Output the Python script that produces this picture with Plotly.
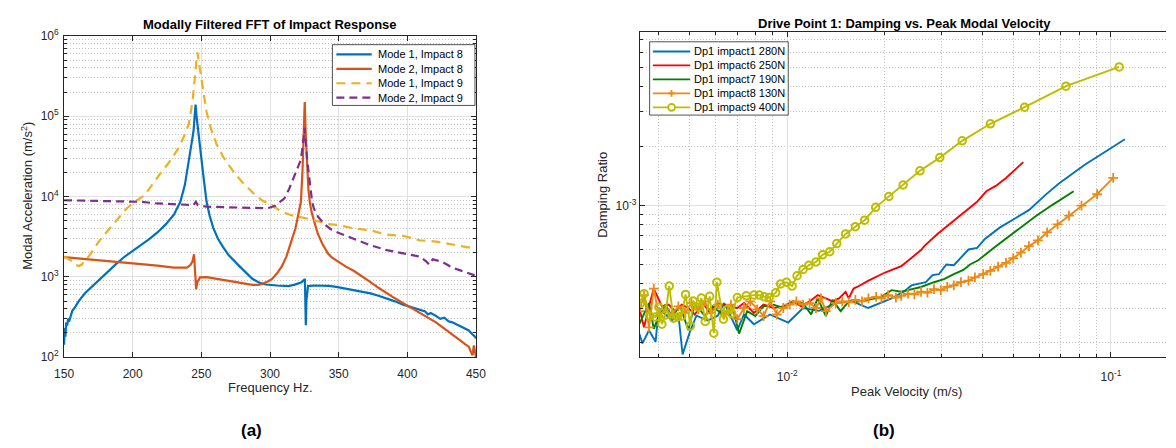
import plotly.graph_objects as go

# ---------------- Data: (a) Modally filtered FFT ----------------
freq_m1_i8 = [150, 150.5, 151, 151.5, 152.4, 153, 154, 156, 158, 160.7, 165, 170.3, 176, 182.2, 188, 194.2, 200, 206, 212, 218,
              224, 230, 234.7, 238, 240.7, 242.5, 244.3, 245.3, 245.8, 246.5, 247.9, 249.5, 251.5, 253.8, 256, 258.6, 262, 265.7,
              270, 277.7, 283, 287.3, 292, 296.8, 305, 313.5, 318, 323, 325.4, 325.8, 326.1, 326.5, 327.7, 332, 337.3, 343, 349.3,
              355, 361.2, 367, 373.2, 379, 385.1, 391, 397, 403, 409, 413, 415, 417, 420.9, 424, 427, 430, 432.8, 436, 439, 442,
              444.8, 447, 449.5, 450]
acc_m1_i8 = [143, 230, 180, 260, 257, 300, 290, 377, 420, 498, 620, 753, 950, 1180, 1450, 1790, 2100, 2470, 2950, 3570,
             4500, 5950, 8590, 14000, 25900, 40000, 65100, 110000, 140000, 100000, 60000, 35000, 18000, 8600, 5800, 4100, 3000, 2360,
             1850, 1360, 1100, 940, 850, 803, 780, 767, 800, 858, 940, 600, 250, 500, 767, 780, 782, 770, 746,
             715, 680, 650, 621, 580, 541, 495, 450, 420, 391, 370, 340, 355, 326, 300, 310, 280, 271, 255, 240, 225,
             215, 195, 179, 170]

freq_m2_i8 = [150, 160, 170, 182.2, 194, 206, 218, 230, 236, 239.5, 242, 243.5, 244.7, 245.4, 246.2, 247, 249, 253.8, 260, 265.7,
              271, 277.7, 283, 287.3, 291, 294.4, 298, 301.5, 305, 308.7, 312, 315.9, 318.5, 320.6, 322.5, 323.7, 324.6, 325.3, 326,
              326.6, 328, 329, 330.2, 332.5, 334.9, 338, 342.1, 345, 349.3, 355, 361.2, 367, 373.2, 379, 385.1, 391, 397, 403, 409,
              415, 420.9, 425, 428, 430, 432.8, 435, 437, 440, 442, 444.8, 446, 447.5, 448.5, 449.5, 450]
acc_m2_i8 = [1760, 1700, 1660, 1590, 1520, 1460, 1380, 1300, 1290, 1300, 1400, 1550, 1910, 1300, 700, 850, 984, 990, 950, 914,
             880, 841, 815, 796, 795, 818, 870, 940, 1100, 1360, 1800, 2840, 4000, 5950, 8600, 21600, 60000, 150000, 60000,
             34300, 12000, 8600, 6500, 4700, 3420, 2600, 1960, 1750, 1560, 1350, 1180, 1000, 858, 730, 621, 540, 471, 410, 357,
             310, 271, 240, 220, 210, 196, 180, 170, 155, 145, 135, 120, 105, 140, 113, 100]

freq_m1_i9 = [150, 153, 156, 158, 160.7, 163, 165, 167.9, 172, 176, 179.8, 185, 191.7, 196, 201.3, 208.5, 214, 220.4, 226, 232.3,
              236.5, 240.7, 243.5, 245.4, 246.5, 247.1, 248, 249, 250.2, 252, 253.8, 257, 261, 266, 272.9, 280, 289.6, 295, 301.5,
              306, 311, 315, 320.6, 325, 330.2, 335, 342.1, 349.3, 361.2, 373.2, 385.1, 397, 409, 420.9, 435, 450]
acc_m1_i9 = [1790, 1650, 1560, 1420, 1360, 1420, 1600, 1790, 2300, 2850, 3420, 4400, 5940, 7200, 8600, 10300, 14000, 19700, 26000, 37500,
             52000, 78500, 150000, 286000, 500000, 625000, 500000, 360000, 260000, 170000, 113000, 70000, 45200, 31000, 21000, 15000, 10300, 8800, 7830,
             6900, 6220, 5900, 5680, 5400, 5180, 4900, 4550, 4430, 4000, 3800, 3350, 3250, 2850, 2750, 2500, 2240]

freq_m2_i9 = [150, 170, 190, 206, 218, 230, 240, 244.3, 246, 247.5, 253.8, 265, 277.7, 290, 296.8, 300, 303.9, 307, 310.4, 314,
              317.6, 320, 322.4, 324, 325.2, 326.2, 327.1, 329, 330.7, 331.9, 335, 339.7, 344, 349.3, 361.2, 373.2, 385.1, 397, 409,
              413.7, 416, 418.5, 425, 432.8, 440, 450]
acc_m2_i9 = [9000, 8800, 8700, 8600, 8200, 8000, 7800, 7830, 8600, 7800, 7480, 7400, 7350, 7200, 7150, 7300, 7700, 8500, 9420, 12500,
             17900, 22000, 28500, 45000, 71600, 45000, 28500, 15000, 8600, 7150, 5600, 4510, 3950, 3570, 2970, 2470, 2150, 1960, 1790,
             1560, 1420, 1650, 1550, 1300, 1180, 1030]

fft_names = ["Mode 1, Impact 8", "Mode 2, Impact 8", "Mode 1, Impact 9", "Mode 2, Impact 9"]

# ---------------- Data: (b) Damping vs peak velocity ----------------
vel_i1 = [0.00349, 0.00357, 0.00374, 0.00392, 0.00401, 0.00420, 0.00440, 0.00461, 0.00475, 0.00500, 0.00524, 0.00569, 0.00610,
          0.00639, 0.00701, 0.00735, 0.00789, 0.00884, 0.01007, 0.01119, 0.01253, 0.01412, 0.01585, 0.01778, 0.0210, 0.0230,
          0.0242, 0.0253, 0.0268, 0.0281, 0.0294, 0.0310, 0.0327, 0.0363, 0.0386, 0.0408, 0.0453, 0.0508, 0.0559, 0.0625,
          0.0689, 0.0830, 0.1104]
damp_i1 = [2.23e-4, 1.99e-4, 2.32e-4, 2.03e-4, 3.01e-4, 2.79e-4, 2.60e-4, 2.79e-4, 1.75e-4, 2.27e-4, 2.75e-4, 2.60e-4, 2.75e-4,
           3.19e-4, 2.32e-4, 2.79e-4, 2.49e-4, 2.79e-4, 2.54e-4, 3.01e-4, 2.91e-4, 3.19e-4, 3.26e-4, 3.01e-4, 3.37e-4, 3.66e-4,
           3.92e-4, 3.99e-4, 4.07e-4, 4.42e-4, 4.47e-4, 5.01e-4, 4.97e-4, 5.97e-4, 6.08e-4, 6.76e-4, 7.71e-4, 8.63e-4, 9.49e-4, 1.125e-3,
           1.29e-3, 1.61e-3, 2.17e-3]

vel_i6 = [0.00349, 0.00361, 0.00374, 0.00387, 0.00410, 0.00430, 0.00450, 0.00472, 0.00495, 0.00518, 0.00549, 0.00576, 0.00610,
          0.00654, 0.00701, 0.00735, 0.00789, 0.00845, 0.00906, 0.00972, 0.01042, 0.01105, 0.01172, 0.01242, 0.01316, 0.01379,
          0.01445, 0.01514, 0.01549, 0.01603, 0.01643, 0.01782, 0.02004, 0.0225, 0.0259, 0.0265, 0.0291, 0.0319, 0.0350, 0.0385,
          0.0412, 0.0442, 0.0474, 0.0536]
damp_i6 = [3.01e-4, 2.40e-4, 3.07e-4, 3.78e-4, 3.07e-4, 3.13e-4, 2.90e-4, 3.13e-4, 3.01e-4, 2.79e-4, 3.19e-4, 2.84e-4, 3.19e-4,
           3.07e-4, 3.01e-4, 3.19e-4, 2.84e-4, 3.13e-4, 3.01e-4, 3.07e-4, 3.25e-4, 3.07e-4, 3.25e-4, 3.50e-4, 3.37e-4, 3.25e-4,
           3.37e-4, 3.64e-4, 3.37e-4, 3.78e-4, 3.85e-4, 4.15e-4, 4.56e-4, 4.91e-4, 5.93e-4, 6.21e-4, 7.16e-4, 8.07e-4, 9.14e-4, 1.04e-3,
           1.18e-3, 1.26e-3, 1.38e-3, 1.66e-3]

vel_i7 = [0.00349, 0.00361, 0.00374, 0.00387, 0.00401, 0.00420, 0.00440, 0.00467, 0.00495, 0.00518, 0.00556, 0.00589, 0.00631,
          0.00677, 0.00710, 0.00752, 0.00797, 0.00845, 0.00906, 0.00972, 0.01042, 0.01119, 0.01185, 0.01242, 0.01316, 0.01379,
          0.01462, 0.01549, 0.01660, 0.01782, 0.01954, 0.0210, 0.0225, 0.0236, 0.0259, 0.0284, 0.0305, 0.0327, 0.0350, 0.0367,
          0.0389, 0.0432, 0.0480, 0.0527, 0.0585, 0.0658, 0.0767]
damp_i7 = [2.49e-4, 2.79e-4, 3.19e-4, 2.36e-4, 2.74e-4, 3.13e-4, 2.74e-4, 3.07e-4, 2.32e-4, 3.19e-4, 2.74e-4, 3.07e-4, 2.79e-4,
           3.07e-4, 2.23e-4, 2.90e-4, 2.74e-4, 3.07e-4, 3.13e-4, 3.01e-4, 3.25e-4, 3.19e-4, 2.79e-4, 3.37e-4, 2.74e-4, 3.31e-4,
           2.90e-4, 3.25e-4, 3.25e-4, 3.31e-4, 3.43e-4, 3.71e-4, 3.64e-4, 3.71e-4, 3.85e-4, 4.07e-4, 4.22e-4, 4.47e-4, 4.70e-4, 5.01e-4,
           5.26e-4, 6.04e-4, 6.89e-4, 7.80e-4, 8.81e-4, 1.004e-3, 1.18e-3]

vel_i8 = [0.00349, 0.00361, 0.00374, 0.00387, 0.00401, 0.00420, 0.00440, 0.00461, 0.00483, 0.00506, 0.00531, 0.00556, 0.00582,
          0.00610, 0.00639, 0.00670, 0.00701, 0.00735, 0.00769, 0.00807, 0.00845, 0.00886, 0.00928, 0.00972, 0.01018, 0.01067,
          0.01119, 0.01172, 0.01227, 0.01271, 0.01316, 0.01412, 0.01479, 0.01549, 0.01623, 0.01702, 0.01782, 0.01882, 0.01954,
          0.0205, 0.02166, 0.0225, 0.0236, 0.0247, 0.0259, 0.0271, 0.0284, 0.0298, 0.0312, 0.0327, 0.0344, 0.0363, 0.0380, 0.0403,
          0.0424, 0.0448, 0.0474, 0.0499, 0.0527, 0.0558, 0.0595, 0.0635, 0.0684, 0.0742, 0.0811, 0.0906, 0.1016]
damp_i8 = [2.90e-4, 3.50e-4, 2.40e-4, 3.78e-4, 2.74e-4, 2.96e-4, 2.79e-4, 3.07e-4, 2.84e-4, 3.19e-4, 2.96e-4, 3.25e-4, 2.84e-4,
           3.13e-4, 2.79e-4, 3.13e-4, 2.64e-4, 3.01e-4, 3.25e-4, 2.96e-4, 2.74e-4, 3.25e-4, 2.79e-4, 3.01e-4, 3.13e-4, 3.25e-4,
           3.13e-4, 3.19e-4, 3.01e-4, 3.37e-4, 2.90e-4, 3.19e-4, 3.25e-4, 3.22e-4, 3.31e-4, 3.25e-4, 3.37e-4, 3.43e-4, 3.37e-4,
           3.50e-4, 3.40e-4, 3.47e-4, 3.56e-4, 3.53e-4, 3.64e-4, 3.60e-4, 3.75e-4, 3.71e-4, 3.85e-4, 3.92e-4, 4.07e-4, 4.15e-4, 4.31e-4, 4.47e-4,
           4.65e-4, 4.88e-4, 5.10e-4, 5.40e-4, 5.75e-4, 6.21e-4, 6.64e-4, 7.29e-4, 8.01e-4, 8.87e-4, 9.97e-4, 1.14e-3, 1.38e-3]

vel_i9 = [0.00352, 0.00361, 0.00376, 0.00392, 0.00401, 0.00410, 0.00420, 0.00432, 0.00445, 0.00458, 0.00472, 0.00485, 0.00502,
          0.00512, 0.00531, 0.00543, 0.00558, 0.00576, 0.00593, 0.00606, 0.00635, 0.00654, 0.00674, 0.00701, 0.00747, 0.00789,
          0.00820, 0.00849, 0.00879, 0.00921, 0.00954, 0.00995, 0.01035, 0.01072, 0.01119, 0.01166, 0.01227, 0.01285, 0.01353,
          0.01422, 0.01514, 0.01623, 0.01734, 0.01875, 0.0206, 0.0228, 0.0257, 0.0296, 0.0347, 0.0424, 0.0541, 0.0726, 0.106]
damp_i9 = [3.18e-4, 3.56e-4, 2.74e-4, 2.71e-4, 3.04e-4, 2.49e-4, 2.77e-4, 3.89e-4, 2.67e-4, 2.71e-4, 2.74e-4, 3.53e-4, 2.44e-4,
           3.27e-4, 3.04e-4, 3.38e-4, 2.57e-4, 3.45e-4, 2.24e-4, 4.07e-4, 2.64e-4, 2.96e-4, 2.82e-4, 3.40e-4, 3.47e-4, 3.50e-4,
           3.50e-4, 3.43e-4, 3.40e-4, 3.60e-4, 3.99e-4, 4.07e-4, 3.89e-4, 4.39e-4, 4.73e-4, 4.96e-4, 5.16e-4, 5.61e-4, 5.82e-4,
           6.40e-4, 7.16e-4, 7.80e-4, 8.41e-4, 9.78e-4, 1.11e-3, 1.27e-3, 1.50e-3, 1.75e-3, 2.13e-3, 2.60e-3, 3.16e-3, 4.04e-3, 5.06e-3]

damp_names = ["Dp1 impact1 280N", "Dp1 impact6 250N", "Dp1 impact7 190N", "Dp1 impact8 130N", "Dp1 impact9 400N"]

# tick definitions
freq_ticks = [150, 200, 250, 300, 350, 400, 450]
acc_major = [1e2, 1e3, 1e4, 1e5, 1e6]
acc_major_text = ["10<sup>2</sup>", "10<sup>3</sup>", "10<sup>4</sup>", "10<sup>5</sup>", "10<sup>6</sup>"]
acc_minor = [m * 10 ** e for e in range(2, 6) for m in range(2, 10)]
vel_major = [1e-2, 1e-1]
vel_major_text = ["10<sup>-2</sup>", "10<sup>-1</sup>"]
vel_minor = [m * 1e-3 for m in range(4, 10)] + [m * 1e-2 for m in range(2, 10)]
damp_major = [1e-3]
damp_major_text = ["10<sup>-3</sup>"]
damp_minor = [m * 1e-4 for m in range(2, 10)] + [m * 1e-3 for m in range(2, 8)]

# ---------------- styling ----------------
W, H = 1176, 448
FONT = "Liberation Sans, Arial, Helvetica, sans-serif"
AX = "#262626"
GRID = "#E1E1E1"
MGRID = "#C4C4C4"
MDASH = "1px,2px"


def px(x):
    return x / W


def py(y):
    return 1 - y / H


fft_colors = ["#0072BD", "#D95319", "#EDB120", "#7E2F8E"]
fft_dash = ["solid", "solid", "9px,6px", "8px,5px"]
damp_colors = ["#0072BD", "#FF0000", "#008000", "#EC8A16", "#BDBD00"]

fig = go.Figure()

fft_x = [freq_m1_i8, freq_m2_i8, freq_m1_i9, freq_m2_i9]
fft_y = [acc_m1_i8, acc_m2_i8, acc_m1_i9, acc_m2_i9]
for i in range(4):
    fig.add_trace(go.Scatter(x=fft_x[i], y=fft_y[i], mode="lines", name=fft_names[i],
                             line=dict(color=fft_colors[i], width=2.2, dash=fft_dash[i]),
                             xaxis="x", yaxis="y", showlegend=False))

dx = [vel_i1, vel_i6, vel_i7, vel_i8, vel_i9]
dy = [damp_i1, damp_i6, damp_i7, damp_i8, damp_i9]
for i in range(5):
    kw = dict(mode="lines")
    if i == 3:
        kw = dict(mode="lines+markers",
                  marker=dict(symbol="cross-thin-open", size=7, color=damp_colors[i],
                              line=dict(width=1.8, color=damp_colors[i])))
    if i == 4:
        kw = dict(mode="lines+markers",
                  marker=dict(symbol="circle-open", size=7.5, color=damp_colors[i],
                              line=dict(width=2, color=damp_colors[i])))
    fig.add_trace(go.Scatter(x=dx[i], y=dy[i], name=damp_names[i],
                             line=dict(color=damp_colors[i], width=1.9),
                             xaxis="x2", yaxis="y2", showlegend=False, **kw))

tickfont = dict(family=FONT, size=12, color=AX)
common = dict(showline=True, linecolor=AX, linewidth=1, ticks="inside", ticklen=5, tickcolor=AX,
              tickwidth=1, showgrid=True, gridcolor=GRID, gridwidth=1, zeroline=False, tickfont=tickfont)

fig.update_layout(
    width=W, height=H, margin=dict(l=0, r=0, t=0, b=0),
    paper_bgcolor="white", plot_bgcolor="white", showlegend=False,
    font=dict(family=FONT, color=AX),
    xaxis=dict(domain=[px(55), px(474)], range=[150, 450], anchor="y", mirror="allticks",
               tickmode="array", tickvals=freq_ticks, ticklabelstandoff=5, **common),
    yaxis=dict(domain=[py(361), py(28)], type="log", range=[2, 6], anchor="x", mirror="allticks",
               tickmode="array", tickvals=acc_major, ticktext=acc_major_text, ticklabelstandoff=2,
               minor=dict(tickmode="array", tickvals=acc_minor, ticks="inside", ticklen=3, tickcolor=AX,
                          showgrid=True, gridcolor=MGRID, griddash=MDASH, gridwidth=1),
               **common),
    xaxis2=dict(domain=[px(640.7), 1], type="log", range=[-2.4555, -0.83], anchor="y2", mirror="allticks",
                tickmode="array", tickvals=vel_major, ticktext=vel_major_text, ticklabelstandoff=9,
                minor=dict(tickmode="array", tickvals=vel_minor, ticks="inside", ticklen=3, tickcolor=AX,
                           showgrid=True, gridcolor=MGRID, griddash=MDASH, gridwidth=1),
                **common),
    yaxis2=dict(domain=[py(360.7), py(24)], type="log", range=[-3.7696, -2.1191], anchor="x2",
                tickmode="array", tickvals=damp_major, ticktext=damp_major_text,
                minor=dict(tickmode="array", tickvals=damp_minor, ticks="inside", ticklen=3, tickcolor=AX,
                           showgrid=True, gridcolor=MGRID, griddash=MDASH, gridwidth=1),
                **common),
)

shapes = []
annotations = []

# titles and labels
annotations.append(dict(text="<b>Modally Filtered FFT of Impact Response</b>", x=px(264.5), y=py(16),
                        xref="paper", yref="paper", showarrow=False, xanchor="center", yanchor="middle",
                        font=dict(family=FONT, size=13, color="#000000")))
annotations.append(dict(text="<b>Drive Point 1: Damping vs. Peak Modal Velocity</b>", x=px(910), y=py(15),
                        xref="paper", yref="paper", showarrow=False, xanchor="center", yanchor="middle",
                        font=dict(family=FONT, size=13, color="#000000")))
annotations.append(dict(text="Frequency Hz.", x=px(264.5), y=py(393), xref="paper", yref="paper", showarrow=False,
                        xanchor="center", yanchor="middle", font=dict(family=FONT, size=13, color=AX)))
annotations.append(dict(text="Peak Velocity (m/s)", x=px(912), y=py(397), xref="paper", yref="paper", showarrow=False,
                        xanchor="center", yanchor="middle", font=dict(family=FONT, size=13, color=AX)))
annotations.append(dict(text="Modal Acceleration (m/s<sup>2</sup>)", x=px(17), y=py(194), xref="paper", yref="paper",
                        showarrow=False, textangle=-90, xanchor="center", yanchor="middle",
                        font=dict(family=FONT, size=13, color=AX)))
annotations.append(dict(text="Damping Ratio", x=px(602), y=py(193), xref="paper", yref="paper",
                        showarrow=False, textangle=-90, xanchor="center", yanchor="middle",
                        font=dict(family=FONT, size=13, color=AX)))
annotations.append(dict(text="<b>(a)</b>", x=px(246), y=py(437), xref="paper", yref="paper", showarrow=False,
                        xanchor="center", yanchor="middle", font=dict(family=FONT, size=17, color="#000000")))
annotations.append(dict(text="<b>(b)</b>", x=px(889), y=py(437), xref="paper", yref="paper", showarrow=False,
                        xanchor="center", yanchor="middle", font=dict(family=FONT, size=17, color="#000000")))

# legend (a)
shapes.append(dict(type="rect", xref="paper", yref="paper", x0=px(328), x1=px(473), y0=py(100), y1=py(37),
                   line=dict(color=AX, width=0.8), fillcolor="white", layer="above"))
rows_a = [47, 62, 77, 92]
for i in range(4):
    shapes.append(dict(type="line", xref="paper", yref="paper", x0=px(332), x1=px(368), y0=py(rows_a[i]), y1=py(rows_a[i]),
                       line=dict(color=fft_colors[i], width=2.2, dash=fft_dash[i]), layer="above"))
    annotations.append(dict(text=fft_names[i], x=px(372), y=py(rows_a[i]), xref="paper", yref="paper", showarrow=False,
                            xanchor="left", yanchor="middle", font=dict(family=FONT, size=11, color="#000000")))

# legend (b)
shapes.append(dict(type="rect", xref="paper", yref="paper", x0=px(650.7), x1=px(791.7), y0=py(110), y1=py(34),
                   line=dict(color=AX, width=0.8), fillcolor="white", layer="above"))
rows_b = [44, 58.5, 73, 87.5, 102]
for i in range(5):
    shapes.append(dict(type="line", xref="paper", yref="paper", x0=px(654), x1=px(692), y0=py(rows_b[i]), y1=py(rows_b[i]),
                       line=dict(color=damp_colors[i], width=1.9), layer="above"))
    annotations.append(dict(text=damp_names[i], x=px(694), y=py(rows_b[i]), xref="paper", yref="paper", showarrow=False,
                            xanchor="left", yanchor="middle", font=dict(family=FONT, size=11, color="#000000")))
# legend markers
cx = 673
r = 3.5
shapes.append(dict(type="line", xref="paper", yref="paper", x0=px(cx - r), x1=px(cx + r), y0=py(rows_b[3]), y1=py(rows_b[3]),
                   line=dict(color=damp_colors[3], width=1.8), layer="above"))
shapes.append(dict(type="line", xref="paper", yref="paper", x0=px(cx), x1=px(cx), y0=py(rows_b[3] - r), y1=py(rows_b[3] + r),
                   line=dict(color=damp_colors[3], width=1.8), layer="above"))
shapes.append(dict(type="circle", xref="paper", yref="paper", x0=px(cx - r), x1=px(cx + r), y0=py(rows_b[4] + r),
                   y1=py(rows_b[4] - r), line=dict(color=damp_colors[4], width=1.8), fillcolor="white", layer="above"))

fig.update_layout(shapes=shapes, annotations=annotations)
fig.write_html("out.html")
